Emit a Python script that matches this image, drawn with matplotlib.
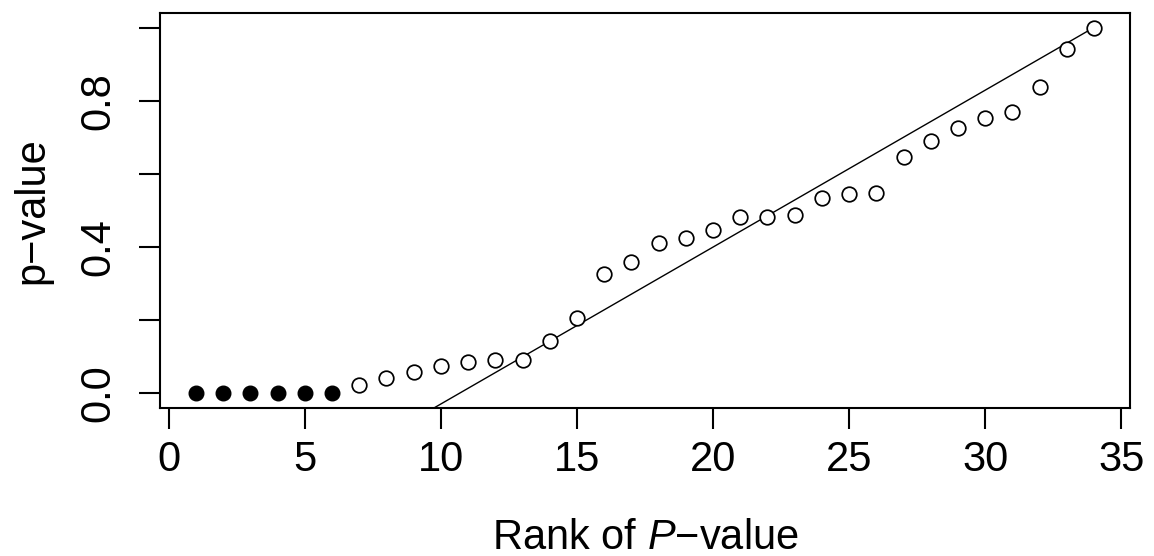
import matplotlib
matplotlib.use("Agg")
import matplotlib.pyplot as plt
import numpy as np

plt.rcParams['font.family'] = ['Liberation Sans', 'DejaVu Sans']
plt.rcParams['mathtext.fontset'] = 'custom'
plt.rcParams['mathtext.rm'] = 'Liberation Sans'
plt.rcParams['mathtext.it'] = 'Liberation Sans:italic'

# Data
rank_sig = [1, 2, 3, 4, 5, 6]
p_sig = [0.0, 0.0, 0.0, 0.0, 0.0, 0.0]
rank_ns = list(range(7, 35))
p_ns = [0.024, 0.042, 0.059, 0.076, 0.085, 0.091, 0.091, 0.143, 0.206, 0.327,
        0.358, 0.412, 0.426, 0.446, 0.483, 0.482, 0.489, 0.533, 0.545, 0.548,
        0.646, 0.691, 0.725, 0.753, 0.770, 0.837, 0.941, 1.000]
line_intercept = -0.458
line_slope = 0.0429
line_x = [5, 34]
x_ticks = [0, 5, 10, 15, 20, 25, 30, 35]
y_ticks = [0.0, 0.2, 0.4, 0.6, 0.8, 1.0]
y_ticklabels = ['0.0', '', '0.4', '', '0.8', '']

fig = plt.figure(figsize=(11.54, 5.56), dpi=100)
ax = fig.add_axes([160/1154, 1-408/556, 970/1154, 395/556])

xs = np.array(line_x, dtype=float)
ax.plot(xs, line_intercept + line_slope*xs, color='black', lw=1.0, zorder=1)
ax.plot(rank_ns, p_ns, linestyle='none', marker='o', ms=10.5, mfc='white',
        mec='black', mew=1.25, zorder=2)
ax.plot(rank_sig, p_sig, linestyle='none', marker='o', ms=10.5, mfc='black',
        mec='black', mew=1.0, zorder=2)

ax.set_xlim(-0.32, 35.32)
ax.set_ylim(-0.04, 1.04)
for s in ax.spines.values():
    s.set_linewidth(1.5)

ax.set_xticks(x_ticks)
ax.set_xticklabels([str(t) for t in x_ticks])
ax.set_yticks(y_ticks)
ax.set_yticklabels(y_ticklabels, rotation=90, va='center')
ax.tick_params(axis='both', direction='out', length=15, width=1.5,
               labelsize=30)
ax.tick_params(axis='x', pad=8)
ax.tick_params(axis='y', pad=15)

ax.set_xlabel('Rank of $\\mathit{P}$\u2212value', fontsize=30)
ax.xaxis.set_label_coords(0.5, -0.329)
ax.xaxis.label.set_va('center')
ax.set_ylabel('p\u2212value', fontsize=30)
ax.yaxis.set_label_coords(-0.132, 0.5)
ax.yaxis.label.set_va('center')

fig.savefig('out.png', dpi=100)
